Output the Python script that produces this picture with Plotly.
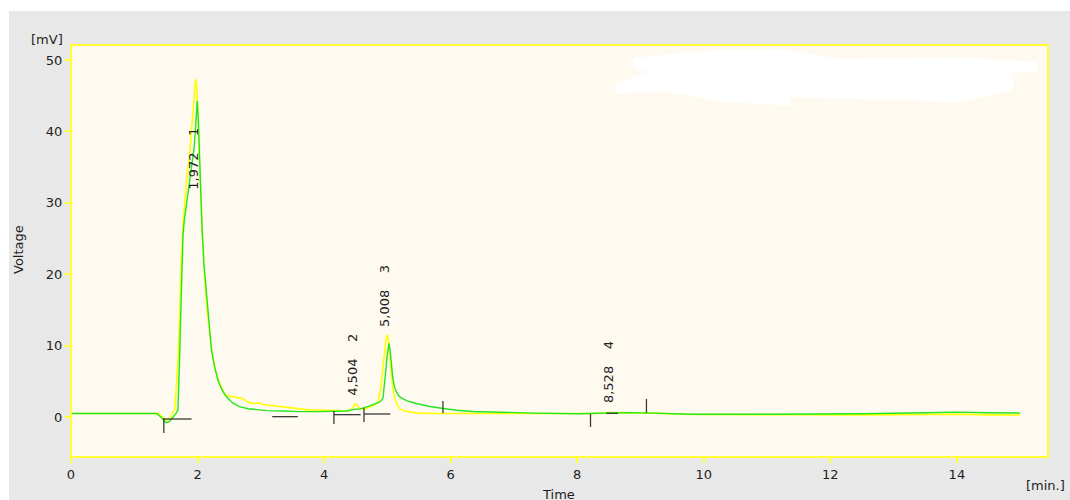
import plotly.graph_objects as go

# ---------------- data ----------------
yellow_t = [0.0, 0.3, 0.6, 0.9, 1.2, 1.38, 1.45, 1.5, 1.56, 1.6, 1.636, 1.66, 1.69, 1.72, 1.742,
            1.77, 1.795, 1.83, 1.873, 1.9, 1.926, 1.95, 1.968, 1.985, 2.005, 2.025, 2.047, 2.08,
            2.11, 2.15, 2.19, 2.24, 2.295, 2.36, 2.43, 2.5, 2.55, 2.62, 2.71, 2.76, 2.82, 2.88,
            2.95, 2.98, 3.04, 3.09, 3.2, 3.35, 3.5, 3.61, 3.75, 3.87, 4.0, 4.14, 4.3, 4.4, 4.45,
            4.49, 4.53, 4.56, 4.62, 4.67, 4.72, 4.77, 4.82, 4.85, 4.88, 4.9, 4.93, 4.96, 4.985,
            5.0, 5.02, 5.04, 5.06, 5.085, 5.11, 5.15, 5.19, 5.25, 5.35, 5.5, 5.8, 6.2, 6.8, 7.5,
            8.0, 8.3, 8.5, 8.8, 9.2, 9.8, 10.5, 11.5, 12.5, 13.5, 14.0, 14.5, 15.0]
yellow_v = [0.5, 0.5, 0.45, 0.5, 0.5, 0.5, 0.0, -0.5, -0.2, 0.4, 1.0, 3.5, 8.0, 15.0, 22.0,
            27.0, 30.0, 33.5, 36.5, 39.5, 43.0, 46.0, 47.3, 46.5, 43.0, 37.0, 31.4, 25.0,
            19.7, 15.0, 11.8, 8.5, 6.2, 4.5, 3.2, 2.9, 2.85, 2.75, 2.6, 2.3, 2.0, 1.9,
            2.0, 1.95, 1.75, 1.7, 1.6, 1.45, 1.3, 1.1, 1.0, 0.98, 0.92, 0.89, 0.88, 0.9, 1.3,
            1.85, 1.6, 1.2, 1.1, 1.2, 1.4, 1.55, 1.8, 2.1, 3.2, 4.3, 7.0, 9.5, 11.2,
            11.5, 10.5, 8.2, 6.1, 4.2, 2.85, 1.8, 1.2, 0.9, 0.7, 0.55, 0.5, 0.5, 0.5, 0.5,
            0.45, 0.5, 0.62, 0.6, 0.55, 0.35, 0.3, 0.32, 0.3, 0.35, 0.38, 0.3, 0.28]

green_t = [0.0, 0.3, 0.6, 0.9, 1.2, 1.35, 1.42, 1.5, 1.56, 1.62, 1.66, 1.69, 1.705, 1.715, 1.73,
           1.742, 1.755, 1.77, 1.79, 1.83, 1.873, 1.91, 1.95, 1.975, 1.995, 2.01, 2.03, 2.05,
           2.07, 2.1, 2.14, 2.18, 2.22, 2.27, 2.32, 2.38, 2.45, 2.55, 2.66, 2.8, 2.93, 3.1,
           3.35, 3.61, 3.9, 4.14, 4.35, 4.5, 4.56, 4.7, 4.82, 4.88, 4.93, 4.95, 4.97, 4.995,
           5.025, 5.045, 5.06, 5.085, 5.11, 5.15, 5.19, 5.3, 5.46, 5.65, 5.88, 6.1, 6.35, 6.77,
           7.3, 8.0, 8.3, 8.5, 8.8, 9.2, 9.8, 10.5, 11.5, 12.5, 13.5, 14.0, 14.5, 15.0]
green_v = [0.5, 0.5, 0.45, 0.5, 0.5, 0.5, 0.0, -0.8, -0.6, 0.0, 0.5, 1.0, 4.0, 8.0, 13.0,
           17.3, 22.0, 25.5, 27.5, 30.0, 33.0, 35.0, 38.0, 41.5, 44.3, 42.0, 36.0, 30.5,
           26.7, 21.5, 17.3, 12.8, 9.4, 7.0, 5.2, 3.9, 2.9, 2.0, 1.45, 1.15, 1.0, 0.9,
           0.85, 0.75, 0.75, 0.75, 0.85, 1.1, 1.1, 1.5, 1.9, 2.1, 2.6, 4.0, 6.1, 8.5,
           10.3, 9.2, 7.5, 5.5, 4.25, 3.4, 2.85, 2.3, 1.9, 1.5, 1.2, 0.95, 0.78, 0.65,
           0.55, 0.45, 0.5, 0.6, 0.62, 0.55, 0.38, 0.38, 0.42, 0.45, 0.6, 0.68, 0.6, 0.55]

# peak labels (retention time, peak number) and label centre positions
peak_times = ["1,972", "4,504", "5,008", "8,528"]
peak_ids = ["1", "2", "3", "4"]
label_t = [1.93, 4.455, 4.957, 8.487]
label_v = [36.2, 7.3, 16.9, 6.3]

# integration markers: vertical ticks (t, v_from, v_to) and baseline segments (t0, t1, v)
tick_t = [1.467, 4.155, 4.63, 5.878, 8.21, 9.094]
tick_v0 = [-0.14, 0.84, 1.26, 2.24, 0.42, 2.52]
tick_v1 = [-2.24, -0.98, -0.7, 0.52, -1.4, 0.6]
seg_t0 = [1.462, 3.18, 4.155, 4.63, 8.46]
seg_t1 = [1.905, 3.585, 4.577, 5.047, 8.645]
seg_v = [-0.28, 0.05, 0.33, 0.42, 0.52]

x_ticks = [0, 2, 4, 6, 8, 10, 12, 14]
y_ticks = [0, 10, 20, 30, 40, 50]

# ---------------- figure ----------------
FONT = "DejaVu Sans, Verdana, sans-serif"
W, H = 1070, 500
ML, MR, MT, MB = 71, 22, 45, 43
PW, PH = W - ML - MR, H - MT - MB


def px(x, y):
    """pixel -> paper coordinates (decoration only)"""
    return (x - ML) / PW, (H - MB - y) / PH


fig = go.Figure()

fig.add_trace(go.Scatter(x=yellow_t, y=yellow_v, mode="lines",
                         line=dict(color="#ffff00", width=1.6), hoverinfo="skip"))
fig.add_trace(go.Scatter(x=green_t, y=green_v, mode="lines",
                         line=dict(color="#22e622", width=1.4), hoverinfo="skip"))

mx, my = [], []
for t, a, b in zip(tick_t, tick_v0, tick_v1):
    mx += [t, t, None]
    my += [a, b, None]
for a, b, v in zip(seg_t0, seg_t1, seg_v):
    mx += [a, b, None]
    my += [v, v, None]
fig.add_trace(go.Scatter(x=mx, y=my, mode="lines", connectgaps=False,
                         line=dict(color="#3a3a3a", width=1.3), hoverinfo="skip"))

annotations = []
for tt, pid, t, v in zip(peak_times, peak_ids, label_t, label_v):
    annotations.append(dict(x=t, y=v, xref="x", yref="y", text=f"{tt}    {pid}",
                            textangle=-90, showarrow=False, xanchor="center", yanchor="middle",
                            font=dict(family=FONT, size=13, color="#1e1e1e")))

def paper_ann(text, x, y, size=13, angle=0):
    xp, yp = px(x, y)
    return dict(x=xp, y=yp, xref="paper", yref="paper", text=text, showarrow=False,
                textangle=angle, xanchor="center", yanchor="middle",
                font=dict(family=FONT, size=size, color="#1e1e1e"))

annotations += [
    paper_ann("[mV]", 47, 40),
    paper_ann("Voltage", 18, 250, angle=-90),
    paper_ann("Time", 558, 494),
    paper_ann("[min.]", 1045, 485),
]

shapes = []
# white outer strips (left / top)
x0, _ = px(0, 0); x1, _ = px(9, 0)
_, yb = px(0, 520); _, yt = px(0, -20)
shapes.append(dict(type="rect", xref="paper", yref="paper", x0=x0 - 0.05, x1=x1, y0=yb, y1=yt,
                   fillcolor="white", line=dict(width=0), layer="below"))
_, y0 = px(0, 11); _, y1 = px(0, -20)
xa, _ = px(-20, 0); xb, _ = px(1100, 0)
shapes.append(dict(type="rect", xref="paper", yref="paper", x0=xa, x1=xb, y0=y0, y1=y1,
                   fillcolor="white", line=dict(width=0), layer="below"))
# plot frame
shapes.append(dict(type="rect", xref="paper", yref="paper", x0=0, x1=1, y0=0, y1=1,
                   fillcolor="rgba(0,0,0,0)", line=dict(color="#ffff33", width=2), layer="above"))
# white smear in the upper right
blob = [(633, 58), (683, 53), (727, 50), (780, 49), (840, 59), (967, 58), (1037, 62),
        (1037, 72), (1010, 73), (1013, 82), (1013, 90), (960, 102), (900, 100), (790, 97),
        (790, 106), (717, 101), (670, 92), (615, 93), (615, 85), (647, 72), (633, 67)]
path = ""
for i, (bx, by) in enumerate(blob):
    xp, yp = px(bx, by)
    path += ("M" if i == 0 else "L") + f"{xp:.4f},{yp:.4f} "
path += "Z"
shapes.append(dict(type="path", xref="paper", yref="paper", path=path,
                   fillcolor="white", line=dict(width=0), layer="above"))

axis_common = dict(showgrid=False, zeroline=False, showline=False, ticks="outside",
                   ticklen=5, tickwidth=2, tickcolor="#ffff33",
                   tickfont=dict(family=FONT, size=13, color="#1e1e1e"))

fig.update_layout(
    width=W, height=H,
    margin=dict(l=ML, r=MR, t=MT, b=MB),
    paper_bgcolor="#e8e8e8",
    plot_bgcolor="#fffaef",
    showlegend=False,
    hovermode=False,
    xaxis=dict(range=[0, 15.44], tickvals=x_ticks, **axis_common),
    yaxis=dict(range=[-5.6, 52.1], tickvals=y_ticks, **axis_common),
    annotations=annotations,
    shapes=shapes,
)

fig.write_html(
    "out.html",
    config={"displayModeBar": False, "staticPlot": True},
    post_script="document.body.style.margin='0';document.body.style.overflow='hidden';",
)
